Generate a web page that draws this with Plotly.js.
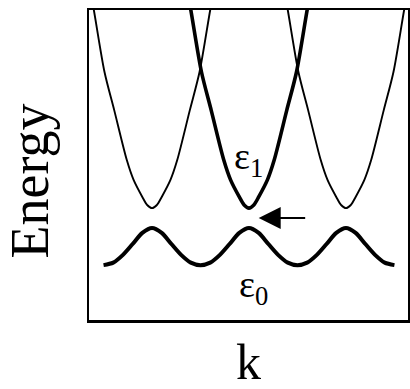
<!DOCTYPE html>
<html>
<head>
<meta charset="utf-8">
<script src="https://cdn.plot.ly/plotly-3.0.1.min.js"></script>
<style>html,body{margin:0;padding:0;background:#fff;}#chart{width:410px;height:389px;}</style>
</head>
<body>
<div id="chart"></div>
<script>
// Left (thin) free-electron band, centred at k = -1
var kLeft   = [-1.67,-1.60,-1.49,-1.39,-1.26,-1.19,-1.10,-1.05,-1.00,-0.95,-0.90,-0.81,-0.74,-0.61,-0.51,-0.40,-0.33];
var eLeft   = [11.2,10.0,8.0,6.77,5.16,4.52,3.97,3.71,3.61,3.71,3.97,4.52,5.16,6.77,8.0,10.0,11.2];
// Centre (thick) band ε1, centred at k = 0
var kCenter = [-0.67,-0.60,-0.49,-0.39,-0.26,-0.19,-0.10,-0.05,0.00,0.05,0.10,0.19,0.26,0.39,0.49,0.60,0.67];
var eCenter = [11.2,10.0,8.0,6.77,5.16,4.52,3.97,3.71,3.61,3.71,3.97,4.52,5.16,6.77,8.0,10.0,11.2];
// Right (thin) band, centred at k = +1
var kRight  = [0.33,0.40,0.51,0.61,0.74,0.81,0.90,0.95,1.00,1.05,1.10,1.19,1.26,1.39,1.49,1.60,1.67];
var eRight  = [11.2,10.0,8.0,6.77,5.16,4.52,3.97,3.71,3.61,3.71,3.97,4.52,5.16,6.77,8.0,10.0,11.2];
// Lower band ε0
var kLow = [-1.5,-1.4,-1.3,-1.2,-1.1,-1.0,-0.9,-0.8,-0.7,-0.6,-0.5,-0.4,-0.3,-0.2,-0.1,0.0,0.1,0.2,0.3,0.4,0.5,0.6,0.7,0.8,0.9,1.0,1.1,1.2,1.3,1.4,1.5];
var eLow = [1.77,1.85,2.10,2.45,2.81,2.97,2.81,2.45,2.10,1.85,1.77,1.85,2.10,2.45,2.81,2.97,2.81,2.45,2.10,1.85,1.77,1.85,2.10,2.45,2.81,2.97,2.81,2.45,2.10,1.85,1.77];

var xTitle = 'k';
var yTitle = 'Energy';
var label1 = 'ε<sub>1</sub>';
var label0 = 'ε<sub>0</sub>';
var label1Pos = [-0.01, 5.2];
var label0Pos = [0.05, 1.05];
var arrowTip = [0.10, 3.29];

var serif = 'Liberation Serif';

function curve(x, y, w) {
  return {x: x, y: y, type: 'scatter', mode: 'lines',
          line: {color: '#000', width: w, shape: 'spline', smoothing: 0.8},
          hoverinfo: 'skip', showlegend: false};
}

var data = [
  curve(kLeft, eLeft, 1.9),
  curve(kRight, eRight, 1.9),
  curve(kCenter, eCenter, 3.6),
  curve(kLow, eLow, 4)
];

var axisCommon = {showgrid: false, zeroline: false, showticklabels: false, ticks: '',
                  showline: true, mirror: true, linecolor: '#000', linewidth: 2.5, fixedrange: true};

var layout = {
  width: 410, height: 389,
  margin: {l: 89, r: 2, t: 10, b: 69},
  paper_bgcolor: '#fff', plot_bgcolor: '#fff',
  font: {family: serif, color: '#000'},
  xaxis: Object.assign({range: [-1.65, 1.64]}, axisCommon),
  yaxis: Object.assign({range: [0, 10]}, axisCommon),
  showlegend: false,
  annotations: [
    {text: yTitle, xref: 'paper', yref: 'paper', x: -0.185, y: 0.45,
     xanchor: 'center', yanchor: 'middle', textangle: -90, showarrow: false,
     font: {family: serif, size: 54, color: '#000'}},
    {text: xTitle, xref: 'paper', yref: 'paper', x: 0.5, y: -0.135,
     xanchor: 'center', yanchor: 'middle', showarrow: false,
     font: {family: serif, size: 50, color: '#000'}},
    {text: label1, x: label1Pos[0], y: label1Pos[1], xref: 'x', yref: 'y',
     showarrow: false, xanchor: 'center', yanchor: 'middle',
     font: {family: serif, size: 38, color: '#000'}},
    {text: label0, x: label0Pos[0], y: label0Pos[1], xref: 'x', yref: 'y',
     showarrow: false, xanchor: 'center', yanchor: 'middle',
     font: {family: serif, size: 38, color: '#000'}},
    {text: '', x: arrowTip[0], y: arrowTip[1], xref: 'x', yref: 'y',
     showarrow: true, ax: 48, ay: 0, arrowhead: 2, arrowsize: 2.2, arrowwidth: 2,
     arrowcolor: '#000', standoff: 0}
  ]
};

Plotly.newPlot('chart', data, layout, {staticPlot: true, displayModeBar: false});
</script>
</body>
</html>
